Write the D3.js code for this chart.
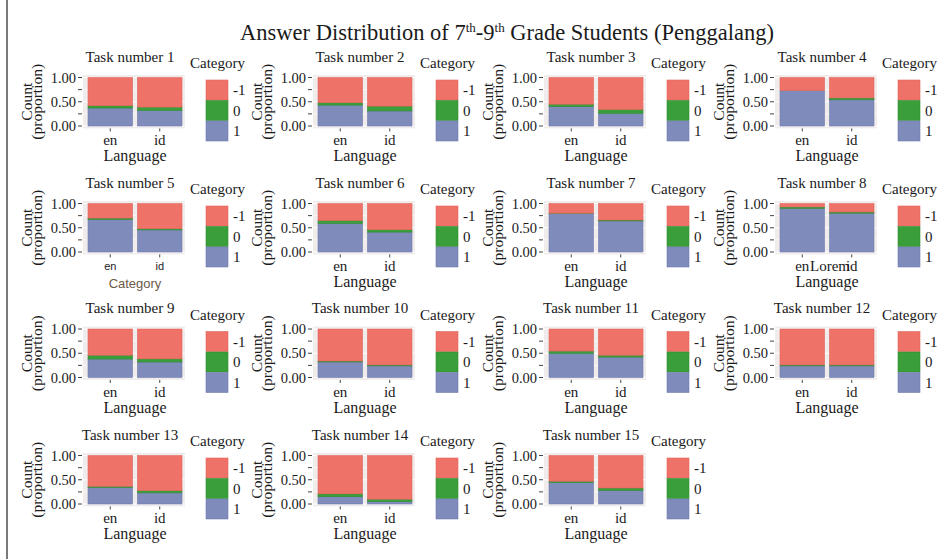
<!DOCTYPE html>
<html>
<head>
<meta charset="utf-8">
<script src="https://cdn.jsdelivr.net/npm/d3@7"></script>
<style>
  body { margin: 0; background: #fff; }
  text { font-family: "Liberation Serif", "DejaVu Serif", serif; fill: #1a1a1a; }
</style>
</head>
<body>
<div id="chart"></div>
<script>
const width = 949;
const height = 559;

const taskTitles = ["Task number 1", "Task number 2", "Task number 3", "Task number 4",
    "Task number 5", "Task number 6", "Task number 7", "Task number 8",
    "Task number 9", "Task number 10", "Task number 11", "Task number 12",
    "Task number 13", "Task number 14", "Task number 15"];
const languages = ["en", "id"];
const categories = ["-1", "0", "1"];
const yTicks = [0, 0.5, 1];
const yMinor = [0.25, 0.75];

// proportions per task
const oneEn      = [0.37, 0.43, 0.40, 0.73, 0.67, 0.59, 0.79, 0.90, 0.38, 0.32, 0.50, 0.24, 0.34, 0.15, 0.44];
const zeroEn     = [0.05, 0.05, 0.05, 0.00, 0.03, 0.06, 0.01, 0.03, 0.08, 0.02, 0.045, 0.02, 0.025, 0.06, 0.03];
const minusOneEn = [0.58, 0.52, 0.55, 0.27, 0.30, 0.35, 0.20, 0.07, 0.54, 0.66, 0.455, 0.74, 0.635, 0.79, 0.53];
const oneId      = [0.32, 0.31, 0.26, 0.54, 0.455, 0.41, 0.64, 0.80, 0.32, 0.24, 0.42, 0.24, 0.23, 0.05, 0.28];
const zeroId     = [0.07, 0.10, 0.08, 0.04, 0.025, 0.05, 0.02, 0.025, 0.065, 0.02, 0.04, 0.02, 0.045, 0.05, 0.05];
const minusOneId = [0.61, 0.59, 0.66, 0.42, 0.52, 0.54, 0.34, 0.175, 0.615, 0.74, 0.54, 0.74, 0.725, 0.90, 0.67];

const fills = {"-1": "#ee7268", "0": "#3a9e3a", "1": "#7f8bbb"};
const strokes = {"-1": "#e0665d", "0": "#2f8c2f", "1": "#6f7cae"};

const panelLeft = [83, 313, 544, 775];
const rowTop = [77.5, 203.5, 329, 455.5];   // y of 1.00
const panelW = 102;
const plotH = 48.5;

const svg = d3.create("svg")
    .attr("width", width)
    .attr("height", height);

svg.append("line")
    .attr("x1", 7).attr("x2", 7).attr("y1", 0).attr("y2", height)
    .attr("stroke", "#222").attr("stroke-width", 1.2);

const title = svg.append("text")
    .attr("x", 507)
    .attr("y", 40)
    .attr("text-anchor", "middle")
    .attr("font-size", "22.5px");
title.append("tspan").text("Answer Distribution of 7");
title.append("tspan").attr("font-size", "13px").attr("dy", -8).text("th");
title.append("tspan").attr("dy", 8).text("-9");
title.append("tspan").attr("font-size", "13px").attr("dy", -8).text("th");
title.append("tspan").attr("dy", 8).text(" Grade Students (Penggalang)");

const stack = d3.stack().keys(["1", "0", "-1"]);

taskTitles.forEach((t, i) => {
    const col = i % 4;
    const row = Math.floor(i / 4);
    const px = panelLeft[col];
    const y1 = rowTop[row];

    const y = d3.scaleLinear()
        .domain([0, 1])
        .range([y1 + plotH, y1]);

    const x = d3.scaleBand()
        .domain(languages)
        .range([px + 5, px + panelW - 3])
        .paddingInner(0.1);

    const g = svg.append("g");

    // panel background + grid
    g.append("rect")
        .attr("x", px)
        .attr("y", y(1.05))
        .attr("width", panelW)
        .attr("height", y(-0.05) - y(1.05))
        .attr("fill", "#f1ecec");

    g.selectAll(".minor")
        .data(yMinor)
        .join("line")
        .attr("x1", px).attr("x2", px + panelW)
        .attr("y1", d => y(d)).attr("y2", d => y(d))
        .attr("stroke", "#fff").attr("stroke-width", 0.6);

    g.selectAll(".major")
        .data(yTicks)
        .join("line")
        .attr("x1", px).attr("x2", px + panelW)
        .attr("y1", d => y(d)).attr("y2", d => y(d))
        .attr("stroke", "#fff").attr("stroke-width", 1.2);

    const rows = [
        {lang: "en", "1": oneEn[i], "0": zeroEn[i], "-1": minusOneEn[i]},
        {lang: "id", "1": oneId[i], "0": zeroId[i], "-1": minusOneId[i]}
    ];

    stack(rows).forEach(layer => {
        g.selectAll(null)
            .data(layer)
            .join("rect")
            .attr("x", d => x(d.data.lang))
            .attr("width", x.bandwidth())
            .attr("y", d => y(d[1]))
            .attr("height", d => y(d[0]) - y(d[1]))
            .attr("fill", fills[layer.key])
            .attr("stroke", d => d[1] - d[0] > 0 ? strokes[layer.key] : "none")
            .attr("stroke-width", 0.6);
    });

    // y axis
    g.selectAll(".ytick")
        .data(yTicks.concat(yMinor))
        .join("line")
        .attr("x1", px - 5).attr("x2", px - 1)
        .attr("y1", d => y(d)).attr("y2", d => y(d))
        .attr("stroke", "#444");

    g.selectAll(".ylab")
        .data(yTicks)
        .join("text")
        .attr("x", px - 7)
        .attr("y", d => y(d) + 5)
        .attr("text-anchor", "end")
        .attr("font-size", "14.5px")
        .text(d => d3.format(".2f")(d));

    // x ticks
    g.selectAll(".xtick")
        .data(languages)
        .join("line")
        .attr("x1", d => x(d) + x.bandwidth() / 2)
        .attr("x2", d => x(d) + x.bandwidth() / 2)
        .attr("y1", y(-0.05)).attr("y2", y(-0.05) + 3)
        .attr("stroke", "#444");

    const odd = i === 4;
    g.selectAll(".xlab")
        .data(languages)
        .join("text")
        .attr("x", d => x(d) + x.bandwidth() / 2)
        .attr("y", y(0) + (odd ? 18 : 19))
        .attr("text-anchor", "middle")
        .attr("font-size", odd ? "11px" : "15px")
        .style("font-family", odd ? "'Liberation Sans', sans-serif" : null)
        .text(d => d);

    if (i === 7) {
        g.append("text")
            .attr("x", px + panelW / 2 + 4)
            .attr("y", y(0) + 19)
            .attr("text-anchor", "middle")
            .attr("font-size", "15px")
            .text("Lorem");
    }

    g.append("text")
        .attr("x", px + panelW / 2 + 1)
        .attr("y", y(0) + (odd ? 36 : 35))
        .attr("text-anchor", "middle")
        .attr("font-size", odd ? "13px" : "16px")
        .style("font-family", odd ? "'Liberation Sans', sans-serif" : null)
        .style("fill", odd ? "#6b5a48" : null)
        .text(odd ? "Category" : "Language");

    // y title
    const cy = y(0.5);
    [["Count", px - 51], ["(proportion)", px - 41]].forEach(([s, bx]) => {
        g.append("text")
            .attr("transform", `translate(${bx},${cy}) rotate(-90)`)
            .attr("text-anchor", "middle")
            .attr("font-size", "15.5px")
            .text(s);
    });

    // panel title
    g.append("text")
        .attr("x", px + panelW / 2 - 4)
        .attr("y", y1 - 16)
        .attr("text-anchor", "middle")
        .attr("font-size", "15px")
        .text(t);

    // legend
    const lx = px + 123;
    g.append("text")
        .attr("x", lx - 16)
        .attr("y", y1 - 9.5)
        .attr("font-size", "15px")
        .text("Category");

    categories.forEach((c, k) => {
        g.append("rect")
            .attr("x", lx)
            .attr("y", y1 + 2.5 + k * 20.5)
            .attr("width", 22)
            .attr("height", 20)
            .attr("fill", fills[c])
            .attr("stroke", strokes[c])
            .attr("stroke-width", 0.6);
        g.append("text")
            .attr("x", lx + 27)
            .attr("y", y1 + 2.5 + k * 20.5 + 15)
            .attr("font-size", "15px")
            .text(c);
    });
});

d3.select("#chart").append(() => svg.node());
</script>
</body>
</html>
